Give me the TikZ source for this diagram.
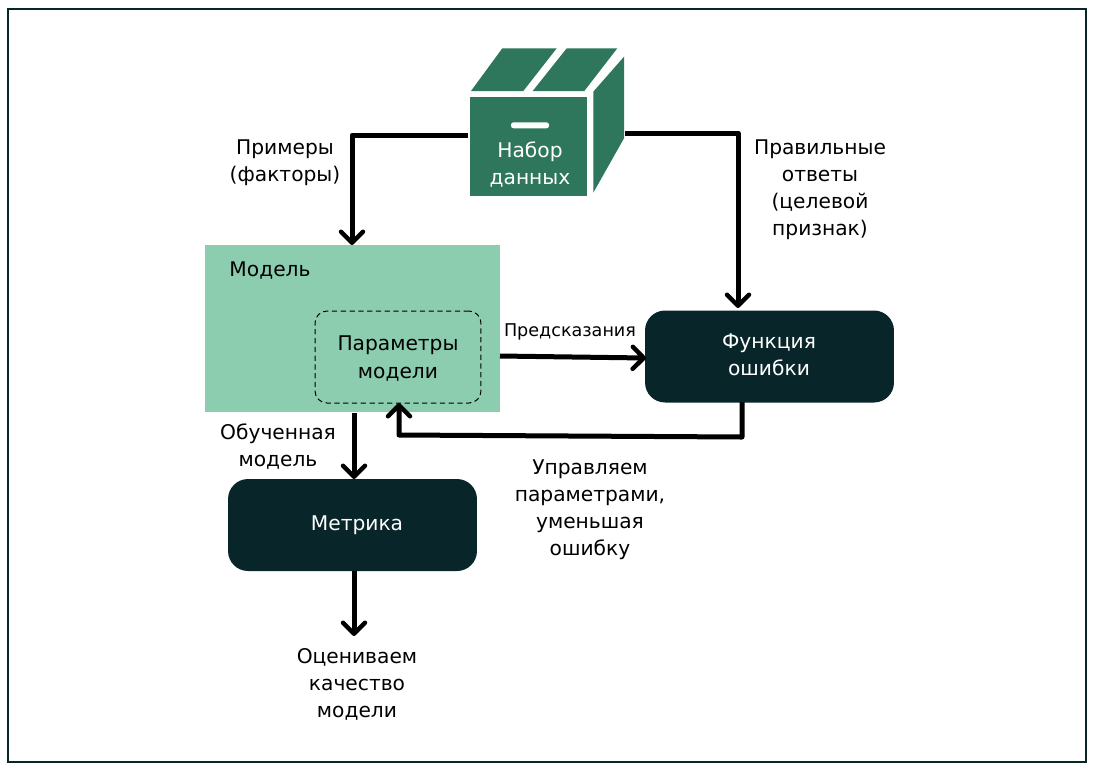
\documentclass[tikz,border=0pt]{standalone}
\usepackage{fontspec}
\setmainfont{DejaVu Sans}
\usetikzlibrary{arrows.meta}
\definecolor{darkteal}{HTML}{08252A}
\definecolor{boxgreen}{HTML}{2E775C}
\definecolor{modelgreen}{HTML}{8CCDB0}
\tikzset{
	lbl/.style={align=center, text=black, inner sep=0pt, font=\fontsize{11.5}{15.4}\selectfont},
	smalllbl/.style={lbl, font=\fontsize{10}{13}\selectfont},
	darkbox/.style={draw=none, fill=darkteal, rounded corners=0.4cm, minimum width=4.98cm, minimum height=1.84cm, inner sep=0pt},
	flow/.style={line width=0.1cm, black, line join=round, -{Straight Barb[length=2.2mm,width=4.4mm,line width=0.9mm,round]}}
}
\begin{document}
\begin{tikzpicture}[x=0.02cm, y=-0.02cm]
	%%%%% FRAME %%%%%
	\useasboundingbox (0, 0) rectangle (1093, 769);
	\draw[line width=0.04cm, color=darkteal] (8, 9) rectangle (1086, 762);

	%%%%% DATA BOX %%%%%
	\fill[boxgreen] (502.3, 48.3) -- (556.7, 48.3) -- (523.3, 91) -- (471, 91) -- cycle;
	\fill[boxgreen] (566.7, 48.3) -- (617.3, 48.3) -- (584.3, 91) -- (532.7, 91) -- cycle;
	\fill[boxgreen] (624, 56.7) -- (624, 138.3) -- (593.3, 192.7) -- (593.3, 91.7) -- cycle;
	\node[fill=boxgreen, minimum width=2.35cm, minimum height=1.98cm, inner sep=0pt] (box) at (528.7, 146.6) {};
	\fill[white, rounded corners=0.05cm] (511, 122.3) rectangle (549, 128.3);
	\node[lbl, text=white] (boxtext) at (530, 165) {Набор\\данных};

	%%%%% MODEL %%%%%
	\node[fill=modelgreen, minimum width=5.9cm, minimum height=3.34cm, inner sep=0pt] (model) at (352.5, 328.5) {};
	\node[lbl] (modeltext) at (270, 271) {Модель};
	\node[draw=black, densely dashed, line width=0.02cm, rounded corners=0.24cm, minimum width=3.32cm, minimum height=1.84cm, inner sep=0pt] (params) at (398, 357) {};
	\node[lbl] (paramstext) at (398, 358.5) {Параметры\\модели};

	%%%%% DARK BOXES %%%%%
	\node[darkbox] (loss) at (769.5, 356.5) {};
	\node[lbl, text=white] (losstext) at (769, 355) {Функция\\ошибки};
	\node[darkbox] (metric) at (352.5, 525) {};
	\node[lbl, text=white] (metrictext) at (357, 525.5) {Метрика};

	%%%%% CONNECTORS %%%%%
	\coordinate (boxleft) at (468, 135);
	\coordinate (boxright) at (625, 133);
	\coordinate (modeltop) at (352, 245);
	\coordinate (losstop) at (738, 308);
	\coordinate (modelright) at (500, 356);
	\coordinate (lossleft) at (646, 358);
	\coordinate (lossbottom) at (742, 402);
	\coordinate (paramsbottom) at (399, 403);
	\coordinate (modelbottom) at (354, 413);
	\coordinate (metrictop) at (354, 479);
	\coordinate (metricbottom) at (354, 571);
	\coordinate (scoreend) at (354, 636);

	\draw[flow] (boxleft) -- (modeltop |- boxleft) -- (modeltop);
	\draw[flow] (boxright) -- (losstop |- boxright) -- (losstop);
	\draw[flow] (modelright) -- (lossleft);
	\draw[flow] (lossbottom) -- (742, 437) -- (399, 435) -- (paramsbottom);
	\draw[flow] (modelbottom) -- (metrictop);
	\draw[flow] (metricbottom) -- (scoreend);

	%%%%% LABELS %%%%%
	\node[lbl] (examples) at (285, 162.5) {Примеры\\(факторы)};
	\node[lbl] (answers) at (820, 190) {Правильные\\ответы\\(целевой\\признак)};
	\node[smalllbl] (preds) at (570, 332) {Предсказания};
	\node[lbl] (trained) at (278, 446.5) {Обученная\\модель};
	\node[lbl] (control) at (590, 510) {Управляем\\параметрами,\\уменьшая\\ошибку};
	\node[lbl] (score) at (357, 684) {Оцениваем\\качество\\модели};
\end{tikzpicture}
\end{document}
